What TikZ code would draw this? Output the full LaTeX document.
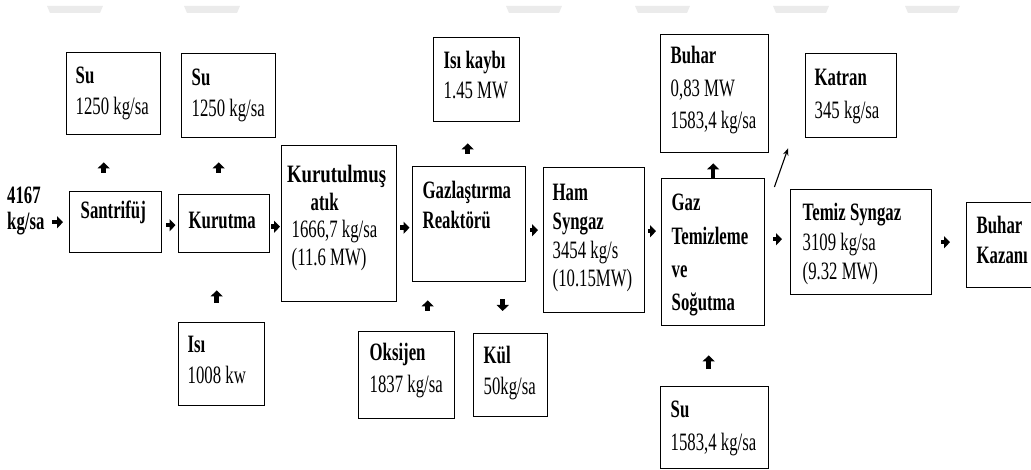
\documentclass[tikz,border=0pt]{standalone}
\usepackage{fontspec}
\setmainfont{Liberation Serif}[FakeStretch=0.67]
\usetikzlibrary{arrows.meta}

% Text block of a given size: width, height, left pad, first baseline from top, line skip, text
\newcommand\bx[6]{\vbox to #2{\hsize=#1\relax\parindent=0pt\parskip=0pt
  \leftskip=#3\relax\rightskip=0pt plus 1fil\relax
  \baselineskip=#5\relax\lineskiplimit=-100pt\lineskip=0pt
  \hbox{}\vskip\dimexpr#4-#5\relax
  #6\par\vfil}}

\tikzset{
  box/.style={draw, line width=1.4pt, inner sep=0pt, anchor=north west},
  plain/.style={inner sep=0pt, anchor=north west},
  blk/.style={-{Triangle[length=6pt,width=12pt]}, line width=4.5pt},
  thin/.style={-{Stealth[length=7pt,width=5.5pt]}, line width=1.1pt},
  haze/.style={fill=black!8, draw=none}
}

\begin{document}
\begin{tikzpicture}[x=1pt, y=-1pt, font=\fontsize{25}{28}\selectfont]
\useasboundingbox (0,0) rectangle (1031,470);

% faint marks along the top edge
\foreach \a/\b in {47/103,184/240,506/562,635/690,773/829,905/960}
  \fill[haze] (\a,6) -- (\b,6) -- (\b-3,13) -- (\a+3,13) -- cycle;

% feed
\node[plain] (feed) at (7,185) {\bx{40pt}{50pt}{0pt}{18pt}{26pt}{\textbf{4167}\\\textbf{kg/sa}}};

% process boxes
\node[box] (santr) at (69,191) {\bx{92pt}{61pt}{11pt}{27pt}{30pt}{\textbf{Santrifüj}}};
\node[box] (kurutma) at (178,194) {\bx{91pt}{58pt}{10pt}{34pt}{30pt}{\textbf{Kurutma}}};
\node[box] (kurut) at (281,145) {\bx{115pt}{156pt}{10pt}{37pt}{27.5pt}{%
  {\leftskip=0pt plus 1fil\rightskip=0pt plus 1fil
   \textbf{\scalebox{1.12}[1]{Kurutulmuş}}\\\textbf{atık}\par}
  1666,7 kg/sa\\(11.6 MW)}};
\node[box] (gazl) at (412,166) {\bx{113pt}{115pt}{10pt}{32pt}{30pt}{\textbf{Gazlaştırma}\\\textbf{Reaktörü}}};
\node[box] (ham) at (543,167) {\bx{101pt}{145pt}{9pt}{33pt}{28.7pt}{\textbf{Ham}\\\textbf{Syngaz}\\3454 kg/s\\(10.15MW)}};
\node[box] (gt) at (661,178) {\bx{103pt}{147pt}{10pt}{32pt}{33.3pt}{\textbf{Gaz}\\\textbf{Temizleme}\\\textbf{ve}\\\textbf{Soğutma}}};
\node[box] (temiz) at (790,189) {\bx{141pt}{105pt}{12pt}{31pt}{29.5pt}{\textbf{Temiz Syngaz}\\3109 kg/sa\\(9.32 MW)}};
\node[box] (bk) at (966,202) {\bx{80pt}{85pt}{10pt}{31pt}{30pt}{\textbf{Buhar}\\\textbf{Kazanı}}};

% streams in and out
\node[box] (su1) at (66,52) {\bx{94pt}{82pt}{9pt}{31pt}{31pt}{\textbf{Su}\\1250 kg/sa}};
\node[box] (su2) at (181,53) {\bx{94pt}{84pt}{10pt}{32pt}{31pt}{\textbf{Su}\\1250 kg/sa}};
\node[box] (isi) at (178,322) {\bx{86pt}{83pt}{9pt}{30pt}{31pt}{\textbf{Isı}\\1008 kw}};
\node[box] (kayip) at (433,37) {\bx{86pt}{84pt}{10pt}{31pt}{30pt}{\textbf{Isı kaybı}\\1.45 MW}};
\node[box] (oks) at (358,331) {\bx{96pt}{87pt}{11pt}{29pt}{32pt}{\textbf{Oksijen}\\1837 kg/sa}};
\node[box] (kul) at (473,333) {\bx{74pt}{83pt}{10pt}{30pt}{31pt}{\textbf{Kül}\\50kg/sa}};
\node[box] (buhar) at (660,34) {\bx{108pt}{118pt}{10pt}{29pt}{32.5pt}{\textbf{Buhar}\\0,83 MW\\1583,4 kg/sa}};
\node[box] (katran) at (805,53) {\bx{91pt}{84pt}{9pt}{32pt}{33pt}{\textbf{Katran}\\345 kg/sa}};
\node[box] (su3) at (660,386) {\bx{108pt}{82pt}{10pt}{31pt}{33pt}{\textbf{Su}\\1583,4 kg/sa}};

% main line
\draw[blk, shorten <=5pt, shorten >=6pt] (feed.east |- santr.west) -- (santr.west);
\draw[blk, shorten <=4pt, shorten >=2.5pt] ([yshift=-3pt]santr.east) -- ([yshift=-3pt]santr.east -| kurutma.west);
\draw[blk, shorten <=1pt, shorten >=1pt] ([yshift=-3pt]kurutma.east) -- ([yshift=-3pt]kurutma.east -| kurut.west);
\draw[blk, shorten <=3pt, shorten >=2.5pt] ([yshift=-4pt]kurut.east) -- ([yshift=-4pt]kurut.east -| gazl.west);
\draw[blk, shorten <=4pt, shorten >=5pt] ([yshift=-6pt]gazl.east) -- ([yshift=-6pt]gazl.east -| ham.west);
\draw[blk, shorten <=2.5pt, shorten >=5pt] ([yshift=9pt]ham.east) -- ([yshift=9pt]ham.east -| gt.west);
\draw[blk, shorten <=8pt, shorten >=8pt] ([yshift=13pt]gt.east) -- ([yshift=13pt]gt.east -| temiz.west);
\draw[blk, shorten <=9pt, shorten >=16pt] (temiz.east) -- (temiz.east -| bk.west);

% side streams
\draw[blk, shorten <=18pt, shorten >=27pt] ([xshift=-12pt]santr.north) -- ([xshift=-12pt]santr.north |- su1.south);
\draw[blk, shorten <=21pt, shorten >=24pt] ([xshift=-5.5pt]kurutma.north) -- ([xshift=-5.5pt]kurutma.north |- su2.south);
\draw[blk, shorten <=19pt, shorten >=37pt] ([xshift=-5pt]isi.north) -- ([xshift=-5pt]isi.north |- kurutma.south);
\draw[blk, shorten <=12pt, shorten >=21pt] ([xshift=-1.5pt]gazl.north) -- ([xshift=-1.5pt]gazl.north |- kayip.south);
\draw[blk, shorten <=20pt, shorten >=18pt] ([xshift=21pt]oks.north) -- ([xshift=21pt]oks.north |- gazl.south);
\draw[blk, shorten <=17pt, shorten >=22pt] ([xshift=33.5pt]gazl.south) -- ([xshift=33.5pt]gazl.south |- kul.north);
\draw[blk, shorten <=0pt, shorten >=10pt] (gt.north) -- (gt.north |- buhar.south);
\draw[blk, shorten <=17pt, shorten >=29pt] ([xshift=-6pt]su3.north) -- ([xshift=-6pt]su3.north |- gt.south);
\draw[thin] ([xshift=9pt,yshift=-9pt]gt.north east) -- ([xshift=-17pt,yshift=-10pt]katran.south west);
\end{tikzpicture}
\end{document}
